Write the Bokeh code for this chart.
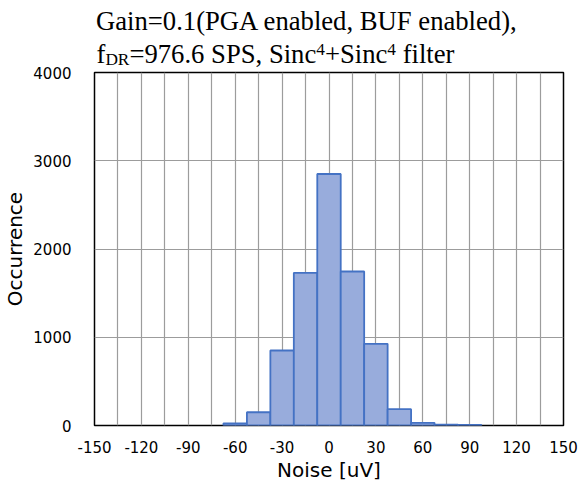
from bokeh.plotting import figure
from bokeh.models import FixedTicker, Range1d, PrintfTickFormatter, Div
from bokeh.layouts import column
from bokeh.embed import file_html
from bokeh.resources import INLINE

# ---- data ----
bin_centers = [-60, -45, -30, -15, 0, 15, 30, 45, 60, 75, 90]
occurrences = [25, 150, 850, 1730, 2850, 1745, 925, 185, 30, 10, 6]
bin_width = 15
x_ticks = [-150, -120, -90, -60, -30, 0, 30, 60, 90, 120, 150]
x_minor = [-135, -105, -75, -45, -15, 15, 45, 75, 105, 135]
y_ticks = [0, 1000, 2000, 3000, 4000]
title_line1 = "Gain=0.1(PGA enabled, BUF enabled),"
title_f, title_sub, title_mid, title_sup, title_plus, title_end = (
    "f", "DR", "=976.6 SPS, Sinc", "4", "+Sinc", " filter")

W = 581
TITLE_H = 66
MAIN_H = 418

# ---- title (HTML text with real sub/superscripts) ----
sub = '<span style="font-size:17.3px;vertical-align:-2px;line-height:0">%s</span>'
sup = '<span style="font-size:17.3px;vertical-align:8.5px;line-height:0">%s</span>'
title_html = (
    '<div style="position:relative;width:581px;height:66px;'
    "font-family:'Liberation Serif';font-size:26.67px;line-height:26.67px;"
    'color:#000;white-space:nowrap;">'
    '<div style="position:absolute;left:96px;top:8.4px">' + title_line1 + '</div>'
    '<div style="position:absolute;left:96.5px;top:41px">'
    + title_f + (sub % title_sub) + title_mid + (sup % title_sup)
    + title_plus + (sup % title_sup) + title_end + '</div></div>'
)
t = Div(text=title_html, width=W, height=TITLE_H, margin=(0, 0, 0, 0))

# ---- main histogram ----
p = figure(width=W, height=MAIN_H, output_backend="svg", toolbar_location=None,
           x_range=Range1d(-150, 150), y_range=Range1d(0, 4000),
           min_border_left=60, min_border_right=18, min_border_top=6, min_border_bottom=56)
p.background_fill_color = "white"
p.border_fill_color = None
p.outline_line_color = "black"
p.outline_line_width = 1.5

p.vbar(x=bin_centers, top=occurrences, width=bin_width, bottom=0,
       fill_color="#98acdc", line_color="#4472c4", line_width=1.8)

tick_font = "DejaVu Sans"
for ax in (p.xaxis[0], p.yaxis[0]):
    ax.axis_line_color = None
    ax.major_tick_line_color = None
    ax.minor_tick_line_color = None
    ax.major_label_text_font = tick_font
    ax.major_label_text_font_size = "15px"
    ax.major_label_text_color = "black"
    ax.axis_label_text_font = tick_font
    ax.axis_label_text_font_size = "20px"
    ax.axis_label_text_font_style = "normal"
    ax.axis_label_text_color = "black"
    ax.formatter = PrintfTickFormatter(format="%d")

p.xaxis.ticker = FixedTicker(ticks=x_ticks, minor_ticks=x_minor)
p.yaxis.ticker = FixedTicker(ticks=y_ticks)
p.xaxis.major_label_standoff = 9
p.yaxis.major_label_standoff = 17
p.xaxis.axis_label = "Noise [uV]"
p.yaxis.axis_label = "Occurrence"
p.xaxis.axis_label_standoff = 2
p.yaxis.axis_label_standoff = 3

grid_color = "#9c9c9c"
p.xgrid.grid_line_color = grid_color
p.xgrid.grid_line_width = 1.2
p.xgrid.minor_grid_line_color = grid_color
p.xgrid.minor_grid_line_width = 1.2
p.ygrid.grid_line_color = grid_color
p.ygrid.grid_line_width = 1.2

layout = column(t, p, spacing=0)
open("out.html", "w").write(file_html(layout, INLINE))
